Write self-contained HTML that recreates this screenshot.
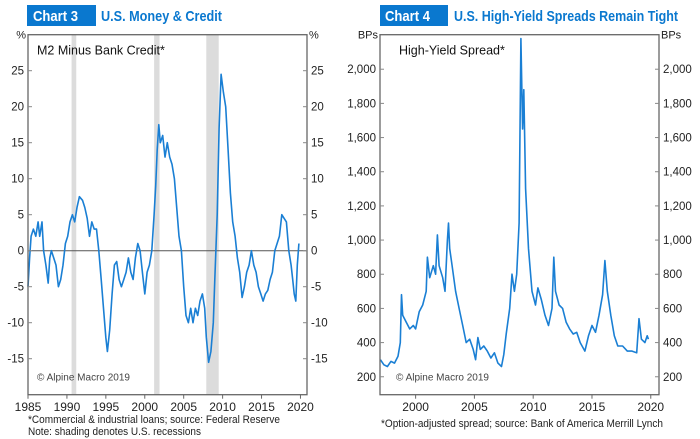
<!DOCTYPE html>
<html><head><meta charset="utf-8"><style>
body{margin:0;background:#fff;}
svg{display:block;font-family:"Liberation Sans",Arial,sans-serif;}
</style></head><body>
<svg id="s" width="700" height="439" viewBox="0 0 700 439">
<g>
<rect x="27" y="5" width="69" height="21" fill="#0a78cf"/>
<text x="33" y="21" font-size="15" font-weight="bold" fill="#fff" textLength="45" lengthAdjust="spacingAndGlyphs">Chart 3</text>
<text x="101" y="21" font-size="15" font-weight="bold" fill="#0a78cf" textLength="121" lengthAdjust="spacingAndGlyphs">U.S. Money &amp; Credit</text>
</g>
<g>
<rect x="380" y="5" width="68" height="21" fill="#0a78cf"/>
<text x="385" y="21" font-size="15" font-weight="bold" fill="#fff" textLength="45" lengthAdjust="spacingAndGlyphs">Chart 4</text>
<text x="454" y="21" font-size="15" font-weight="bold" fill="#0a78cf" textLength="224" lengthAdjust="spacingAndGlyphs">U.S. High-Yield Spreads Remain Tight</text>
</g>
<g id="c3"></g>
<g id="c4"></g>
<text x="28" y="423" font-size="11" fill="#222" textLength="252" lengthAdjust="spacingAndGlyphs">*Commercial &amp; industrial loans; source: Federal Reserve</text>
<text x="28" y="435" font-size="11" fill="#222" textLength="173" lengthAdjust="spacingAndGlyphs">Note: shading denotes U.S. recessions</text>
<text x="381" y="427" font-size="11" fill="#222" textLength="282" lengthAdjust="spacingAndGlyphs">*Option-adjusted spread; source: Bank of America Merrill Lynch</text>
</svg>
<script>
const m2Years=[1985.0,1985.2,1985.4,1985.7,1986.0,1986.3,1986.5,1986.8,1987.0,1987.3,1987.6,1987.8,1988.0,1988.3,1988.6,1988.9,1989.2,1989.5,1989.8,1990.1,1990.4,1990.7,1991.0,1991.3,1991.6,1992.0,1992.3,1992.6,1992.9,1993.2,1993.5,1993.8,1994.1,1994.4,1994.7,1995.0,1995.2,1995.5,1995.8,1996.1,1996.4,1996.7,1997.0,1997.3,1997.6,1997.9,1998.2,1998.5,1998.8,1999.1,1999.4,1999.7,2000.0,2000.3,2000.6,2000.9,2001.2,2001.4,2001.6,2001.8,2002.0,2002.3,2002.6,2002.9,2003.2,2003.5,2003.8,2004.1,2004.4,2004.7,2005.0,2005.3,2005.6,2005.9,2006.2,2006.5,2006.8,2007.1,2007.4,2007.7,2007.9,2008.2,2008.5,2008.8,2009.0,2009.3,2009.55,2009.8,2010.1,2010.4,2010.7,2011.0,2011.3,2011.6,2011.9,2012.2,2012.5,2012.8,2013.1,2013.4,2013.7,2014.0,2014.3,2014.6,2014.9,2015.2,2015.5,2015.8,2016.1,2016.4,2016.7,2017.0,2017.3,2017.6,2017.9,2018.2,2018.5,2018.8,2019.0,2019.2,2019.4,2019.6,2019.8];
const m2Values=[-5,-1,2,3,2,4,2,4,0,-2,-4.5,-1,0,-1,-2,-5,-4,-2,1,2,4,5,4,6,7.5,7,6,4.5,2,4,3,3,0,-4,-8,-12,-14,-11,-6,-2,-1.5,-4,-5,-4,-3,-1,-3,-4,-1,1,0,-3,-6,-3,-2,0,5,9,14,17.5,15,16,13,15,13,12,10,6,2,0,-5,-9,-10,-8,-10,-8,-9,-7,-6,-8,-12,-15.5,-14,-10,-4,5,17,24.5,22,20,14,8,4,2,-1,-3,-6.5,-5,-3,-2,0,-2,-3,-5,-6,-7,-6,-5.5,-4,-3,0,1,2,5,4.5,4,0,-2,-4,-6,-7,-2,1];
const recessionStart=[1990.6,2001.2,2007.9];
const recessionEnd=[1991.2,2001.9,2009.5];
const m2Ticks=[25,20,15,10,5,0,-5,-10,-15];
const m2YearTicks=[1985,1990,1995,2000,2005,2010,2015,2020];

const hyYears=[1997.0,1997.3,1997.6,1997.9,1998.2,1998.5,1998.7,1998.8,1998.9,1999.2,1999.5,1999.8,2000.0,2000.3,2000.6,2000.9,2001.0,2001.2,2001.5,2001.7,2001.85,2002.0,2002.3,2002.5,2002.7,2002.8,2002.9,2003.1,2003.4,2003.7,2004.0,2004.3,2004.6,2004.9,2005.1,2005.3,2005.5,2005.8,2006.1,2006.4,2006.7,2007.0,2007.3,2007.5,2007.7,2008.0,2008.2,2008.4,2008.6,2008.8,2008.95,2009.1,2009.2,2009.35,2009.6,2009.9,2010.2,2010.4,2010.7,2011.0,2011.3,2011.6,2011.75,2011.9,2012.2,2012.5,2012.8,2013.1,2013.4,2013.7,2014.0,2014.4,2014.7,2015.0,2015.3,2015.6,2015.9,2016.1,2016.3,2016.6,2016.9,2017.2,2017.6,2018.0,2018.4,2018.8,2019.0,2019.2,2019.5,2019.7,2019.8];
const hyValues=[300,270,260,290,280,320,400,680,560,520,480,500,480,580,620,700,900,780,850,800,1030,850,780,700,1000,1100,950,850,700,600,500,400,420,360,300,430,360,380,350,310,340,280,260,330,450,600,800,700,800,1100,2180,1650,1880,1300,950,700,620,720,650,560,500,600,900,700,620,600,520,480,450,460,400,350,440,500,460,560,680,880,700,560,440,380,380,350,350,340,540,420,400,440,420];
const hyTicks=[2000,1800,1600,1400,1200,1000,800,600,400,200];
const hyYearTicks=[2000,2005,2010,2015,2020];

const NS='http://www.w3.org/2000/svg';
function mk(parent,tag,attrs){const e=document.createElementNS(NS,tag);for(const k in attrs)e.setAttribute(k,attrs[k]);parent.appendChild(e);return e;}
const fmt=v=>v>=1000?Math.floor(v/1000)+','+String(v%1000).padStart(3,'0'):String(v);

function drawChart(g,cfg){
  const {L,R,T,B,x0,x1,y0,y1}=cfg;
  const xs=v=>L+(v-x0)/(x1-x0)*(R-L);
  const ys=v=>B-(v-y0)/(y1-y0)*(B-T);
  if(cfg.recS){for(let i=0;i<cfg.recS.length;i++){
    const r=mk(g,'rect',{x:xs(cfg.recS[i]),y:T,width:xs(cfg.recE[i])-xs(cfg.recS[i]),height:B-T,fill:'#dcdcdc'});
    
    
  }}
  if(cfg.zero){const z=mk(g,'line',{x1:L,x2:R,y1:ys(0),y2:ys(0),stroke:'#555','stroke-width':1});
    
    }
  const d=cfg.xv.map((x,i)=>(i?'L':'M')+xs(x).toFixed(1)+' '+ys(cfg.yv[i]).toFixed(1)).join(' ');
  const p=mk(g,'path',{d:d,fill:'none',stroke:'#1a7fd4','stroke-width':1.6,'stroke-linejoin':'round'});
  
  
  const box=mk(g,'rect',{x:L,y:T,width:R-L,height:B-T,fill:'none',stroke:'#666','stroke-width':1.3});
  
  
  cfg.yt.forEach(v=>{
    const y=ys(v);
    mk(g,'line',{x1:L,x2:L+4,y1:y,y2:y,stroke:'#888'});
    mk(g,'line',{x1:R-4,x2:R,y1:y,y2:y,stroke:'#888'});
    const a=mk(g,'text',{x:L-4,y:y+4,'font-size':11.5,'text-anchor':'end',fill:'#222'});a.textContent=fmt(v);
    
    
    const b=mk(g,'text',{x:R+4,y:y+4,'font-size':11.5,fill:'#222'});b.textContent=fmt(v);
    
    
  });
  cfg.xt.forEach(v=>{
    const x=xs(v);
    mk(g,'line',{x1:x,x2:x,y1:B,y2:B+4,stroke:'#666'});
    const t=mk(g,'text',{x:x,y:B+16.5,'font-size':12,'text-anchor':'middle',fill:'#222'});t.textContent=v;
    
    
  });
  const u1=mk(g,'text',{x:L-2,y:T+4,'font-size':11,'text-anchor':'end',fill:'#222'});u1.textContent=cfg.unit;
  
  
  const u2=mk(g,'text',{x:R+2,y:T+4,'font-size':11,fill:'#222'});u2.textContent=cfg.unit;
  
  
  const lab=mk(g,'text',{x:cfg.labX,y:T+20,'font-size':12.5,fill:'#111'});lab.textContent=cfg.label;
  
  
  const c=mk(g,'text',{x:cfg.cX,y:B-14,'font-size':10,fill:'#444'});c.textContent='© Alpine Macro 2019';
  
  
}
drawChart(document.getElementById('c3'),{L:28,R:307,T:34.7,B:394.7,x0:1985,x1:2020.84,y0:-20,y1:30,
  recS:recessionStart,recE:recessionEnd,zero:true,xv:m2Years,yv:m2Values,yt:m2Ticks,xt:m2YearTicks,
  unit:'%',label:'M2 Minus Bank Credit*',labX:37,cX:37,name:'m2-minus-credit'});
drawChart(document.getElementById('c4'),{L:380,R:659,T:34.7,B:394.7,x0:1996.97,x1:2020.7,y0:95,y1:2202,
  xv:hyYears,yv:hyValues,yt:hyTicks,xt:hyYearTicks,unit:'BPs',label:'High-Yield Spread*',labX:399,cX:396,name:'high-yield-spread'});
</script>
</body></html>
